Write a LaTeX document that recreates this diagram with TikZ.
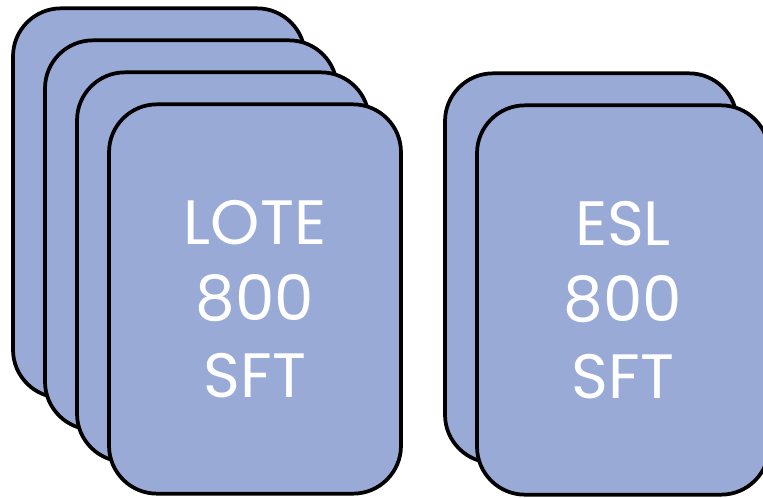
\documentclass[tikz,border=0pt]{standalone}
\usepackage{fontspec}
\setmainfont{Poppins}
\usepackage{tikz}

\definecolor{cardblue}{RGB}{152,170,213}

\begin{document}
\begin{tikzpicture}[
	x=0.75pt, y=-0.75pt,
	card/.style={draw=black, line width=2.8pt, fill=cardblue, rectangle, rounded corners=36pt,
		minimum width=219pt, minimum height=292pt, inner sep=0pt},
	cardtext/.style={text=white, align=center, font=\fontsize{47}{57.5}\selectfont}
	]
	
	%-----------------------
	% Frame
	%-----------------------
	\useasboundingbox (0,0) rectangle (763,497);
	\clip (0,0) rectangle (763,497);
	
	%-----------------------
	% Left stack: LOTE cards
	%-----------------------
	\node[card] (lote1) at (159,203) {};
	\node[card] (lote2) at (191,235) {};
	\node[card] (lote3) at (223,267) {};
	\node[card, cardtext] (lote4) at (255,299) {LOTE\\800\\SFT};
	
	%-----------------------
	% Right stack: ESL cards
	%-----------------------
	\node[card] (esl1) at (591,268) {};
	\node[card, cardtext] (esl2) at (623,300) {ESL\\800\\SFT};
	
\end{tikzpicture}
\end{document}
